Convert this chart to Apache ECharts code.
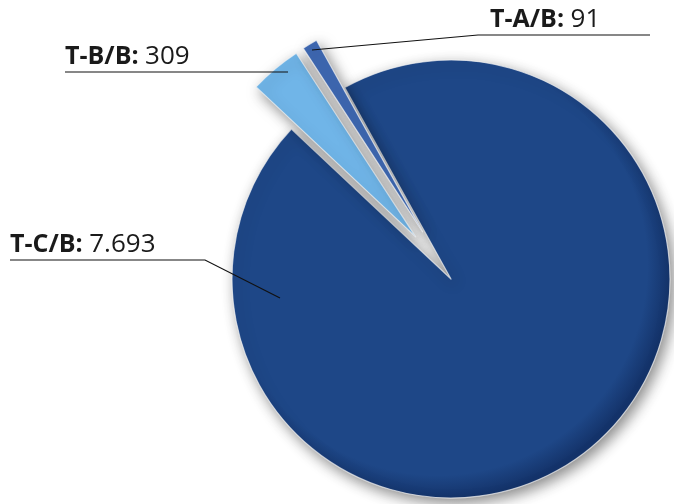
<!DOCTYPE html>
<html>
<head>
<meta charset="utf-8">
<script src="https://cdn.jsdelivr.net/npm/echarts@6/dist/echarts.min.js"></script>
<style>
  html, body { margin: 0; padding: 0; background: #ffffff; }
  #chart { width: 674px; height: 504px; }
</style>
</head>
<body>
<div id="chart"></div>
<script>
// Slice data
const categories = ['T-C/B', 'T-B/B', 'T-A/B'];
const values = [7693, 309, 91];
const explodedSlices = ['T-B/B', 'T-A/B'];

// Styling
const sliceColors = ['#1e4787', '#70b5e8', '#3e68b2'];
const rimColors = ['#14336a', '#5a9fd6', '#2f5799'];
const PIE_CENTER = [451, 279];
const PIE_RADIUS = 219;
const START_ANGLE = 119;
const EXPLODE = 55;

// Callout geometry, in px relative to the pie centre
const callouts = [
  { anchor: [-171, 19],   bend: [-246, -19],  end: [-441, -19], textX: -441 },
  { anchor: [-163, -207], bend: [-163, -207], end: [-386, -207], textX: -386 },
  { anchor: [-139, -229], bend: [27, -244],   end: [199, -244],  textX: 39 }
];

function formatThousands(v) {
  return String(v).replace(/\B(?=(\d{3})+(?!\d))/g, '.');
}

// Slight darkening toward the rim of the big slice
function rimFill(i) {
  if (i !== 0) return sliceColors[i];
  return new echarts.graphic.RadialGradient(0.47, 0.47, 0.53, [
    { offset: 0, color: sliceColors[i] },
    { offset: 0.9, color: sliceColors[i] },
    { offset: 1, color: rimColors[i] }
  ]);
}

const chart = echarts.init(document.getElementById('chart'), null, { renderer: 'canvas' });

// Slices (exploded ones pulled out via the select state)
const sliceData = categories.map((name, i) => ({
  name: name,
  value: values[i],
  selected: explodedSlices.indexOf(name) >= 0,
  itemStyle: { color: rimFill(i) },
  select: { itemStyle: { color: rimFill(i) } }
}));

// Invisible twin of the pie that only carries the callouts
const calloutData = categories.map((name, i) => ({ name: name, value: values[i] }));

chart.setOption({
  animation: false,
  backgroundColor: '#ffffff',
  series: [{
    type: 'pie',
    z: 2,
    center: PIE_CENTER,
    radius: PIE_RADIUS,
    startAngle: START_ANGLE,
    clockwise: true,
    selectedMode: 'multiple',
    selectedOffset: EXPLODE,
    avoidLabelOverlap: false,
    emphasis: { disabled: true },
    itemStyle: {
      borderColor: 'rgba(245,245,245,0.7)',
      borderWidth: 1.2,
      shadowBlur: 14,
      shadowOffsetX: 4,
      shadowOffsetY: 5,
      shadowColor: 'rgba(0,0,0,0.45)'
    },
    label: { show: false },
    labelLine: { show: false },
    data: sliceData
  }, {
    type: 'pie',
    z: 5,
    center: PIE_CENTER,
    radius: PIE_RADIUS,
    startAngle: START_ANGLE,
    clockwise: true,
    silent: true,
    selectedMode: false,
    avoidLabelOverlap: false,
    emphasis: { disabled: true },
    itemStyle: { color: 'rgba(0,0,0,0)', borderWidth: 0 },
    label: {
      show: true,
      position: 'outside',
      fontFamily: 'Open Sans',
      fontSize: 25,
      color: '#1a1a1a',
      formatter: p => '{n|' + p.name + ':} {v|' + formatThousands(p.value) + '}',
      rich: {
        n: { fontFamily: 'Open Sans', fontSize: 25, fontWeight: 'bold', color: '#1a1a1a' },
        v: { fontFamily: 'Open Sans', fontSize: 26, fontWeight: 'normal', color: '#1a1a1a' }
      }
    },
    labelLine: {
      show: true,
      showAbove: true,
      lineStyle: { color: '#111111', width: 1.2 }
    },
    labelLayout: function (params) {
      const c = callouts[params.dataIndex];
      const pt = d => [PIE_CENTER[0] + d[0], PIE_CENTER[1] + d[1]];
      const end = pt(c.end);
      return {
        x: PIE_CENTER[0] + c.textX,
        y: end[1] - 2,
        align: 'left',
        verticalAlign: 'bottom',
        labelLinePoints: [pt(c.anchor), pt(c.bend), end]
      };
    },
    data: calloutData
  }]
});
</script>
</body>
</html>
